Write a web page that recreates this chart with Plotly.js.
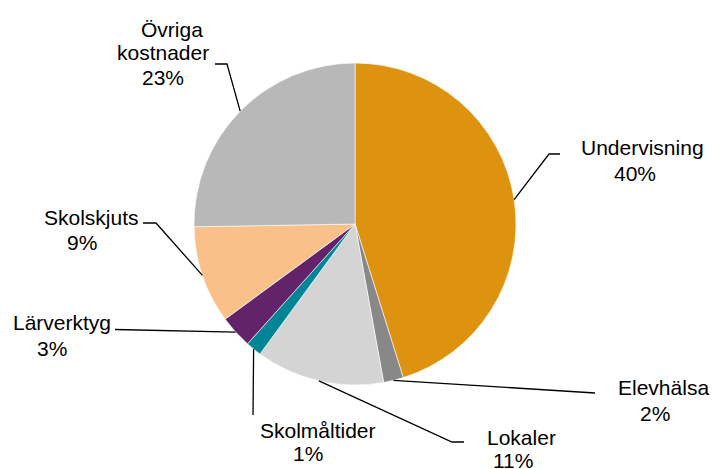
<!DOCTYPE html>
<html>
<head>
<meta charset="utf-8">
<script src="https://cdn.plot.ly/plotly-3.0.1.min.js"></script>
<style>html,body{margin:0;padding:0;background:#fff}#chart{width:713px;height:469px}</style>
</head>
<body>
<div id="chart"></div>
<script>
// Data
var categories = ['Undervisning', 'Elevhälsa', 'Lokaler', 'Skolmåltider', 'Lärverktyg', 'Skolskjuts', 'Övriga kostnader'];
var shares = [45.2, 2.0, 12.9, 1.6, 3.3, 9.8, 25.3];
var percentLabels = ['40%', '2%', '11%', '1%', '3%', '9%', '23%']; // printed labels
var nameLines = [['Undervisning'], ['Elevhälsa'], ['Lokaler'], ['Skolmåltider'], ['Lärverktyg'], ['Skolskjuts'], ['Övriga', 'kostnader']];

// Styles / layout
var colors = ['#DE9310', '#888888', '#D4D4D4', '#008597', '#62236B', '#FAC08A', '#B8B8B8'];
var W = 713, H = 469;
var cx = 355, cy = 224, R = 161;
// leader-line route after the slice anchor (pixel coords) and label line centres
var routes = [
  [[549, 154], [560, 154]],
  [[595, 393]],
  [[452, 442], [464, 442]],
  [[253, 415]],
  [[115, 329.5]],
  [[156, 223], [143, 223]],
  [[227, 64], [215, 64]]
];
var textPos = [
  [[642, 148], [635, 173]],
  [[663, 387], [655, 413]],
  [[521, 437], [513, 460]],
  [[318, 430], [308, 453]],
  [[62, 322], [52, 348]],
  [[91, 218], [82, 243]],
  [[172, 29], [163, 53], [163, 77]]
];

function px(x) { return x / W; }
function py(y) { return 1 - y / H; }

var total = shares.reduce(function (a, b) { return a + b; }, 0);
var shapes = [], annotations = [];
var cum = 0;
var font = {family: 'Liberation Sans, Arial, sans-serif', size: 21, color: '#000'};
for (var i = 0; i < shares.length; i++) {
  var mid = (cum + shares[i] / 2) / total * 2 * Math.PI;
  cum += shares[i];
  var ax = cx + R * Math.sin(mid), ay = cy - R * Math.cos(mid);
  var path = 'M' + px(ax) + ',' + py(ay);
  routes[i].forEach(function (p) { path += ' L' + px(p[0]) + ',' + py(p[1]); });
  shapes.push({type: 'path', xref: 'paper', yref: 'paper', path: path, line: {color: '#000', width: 1.3}});
  var lines = nameLines[i].concat([percentLabels[i]]);
  for (var k = 0; k < lines.length; k++) {
    annotations.push({
      xref: 'paper', yref: 'paper', x: px(textPos[i][k][0]), y: py(textPos[i][k][1]),
      xanchor: 'center', yanchor: 'middle', text: lines[k], showarrow: false, font: font
    });
  }
}

var trace = {
  type: 'pie',
  labels: categories,
  values: shares,
  sort: false,
  direction: 'clockwise',
  rotation: 0,
  textinfo: 'none',
  hoverinfo: 'label+percent',
  marker: {colors: colors, line: {color: '#ffffff', width: 0.6}},
  domain: {x: [px(cx - R), px(cx + R)], y: [py(cy + R), py(cy - R)]},
  showlegend: false
};

Plotly.newPlot('chart', [trace], {
  width: W, height: H,
  margin: {l: 0, r: 0, t: 0, b: 0},
  paper_bgcolor: '#fff',
  showlegend: false,
  shapes: shapes,
  annotations: annotations
}, {displayModeBar: false, staticPlot: true});
</script>
</body>
</html>
